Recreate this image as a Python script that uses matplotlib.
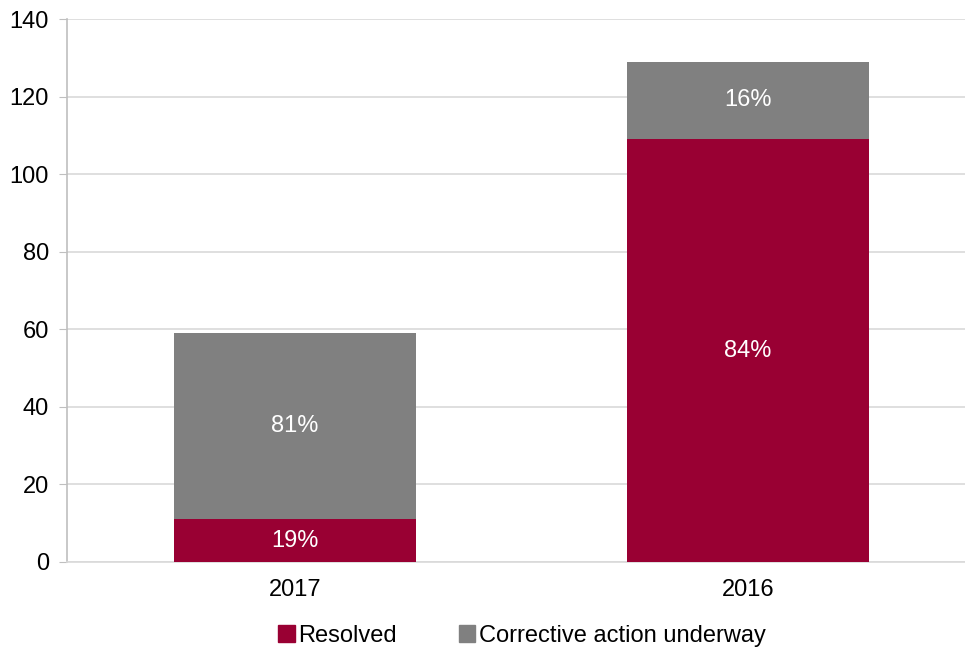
import matplotlib.pyplot as plt
import matplotlib.patches as mpatches
import numpy as np

plt.rcParams['font.family'] = ['Liberation Sans', 'DejaVu Sans']

# data
years = ["2017", "2016"]
resolved = [11, 109]
underway = [48, 20]
resolved_pct = ["19%", "84%"]
underway_pct = ["81%", "16%"]

c_res = "#990033"
c_und = "#808080"
fs = 17

fig = plt.figure(figsize=(9.65, 6.47), dpi=100)
ax = fig.add_axes([67 / 965, 85 / 647, 1 - 67 / 965, 543 / 647])

x = np.arange(len(years))
w = 0.534
ax.bar(x, resolved, w, color=c_res, label="Resolved", zorder=3)
ax.bar(x, underway, w, bottom=resolved, color=c_und,
       label="Corrective action underway", zorder=3)

for i in range(len(years)):
    ax.text(x[i], resolved[i] / 2, resolved_pct[i], ha="center", va="center",
            color="white", fontsize=fs, zorder=4)
    ax.text(x[i], resolved[i] + underway[i] / 2, underway_pct[i], ha="center",
            va="center", color="white", fontsize=fs, zorder=4)

ax.set_xlim(-0.503, 1.479)
ax.set_ylim(0, 140)
ax.set_yticks(np.arange(0, 141, 20))
ax.set_xticks(x)
ax.set_xticklabels(years)
ax.tick_params(axis="y", labelsize=fs, length=6, color="#bfbfbf", pad=7)
ax.tick_params(axis="x", labelsize=fs, length=0, pad=12)
ax.yaxis.grid(True, color="#d9d9d9", linewidth=1.2, zorder=0)
ax.set_axisbelow(True)

for s in ["top", "right"]:
    ax.spines[s].set_visible(False)
ax.spines["left"].set_color("#bfbfbf")
ax.spines["bottom"].set_color("#d9d9d9")
ax.spines["left"].set_linewidth(1.2)
ax.spines["bottom"].set_linewidth(1.2)

h1 = mpatches.Patch(color=c_res, label="Resolved")
h2 = mpatches.Patch(color=c_und, label="Corrective action underway")
fig.legend(handles=[h1, h2], loc="center", bbox_to_anchor=(522 / 965, 11 / 647),
           ncol=2, frameon=False, fontsize=fs, handlelength=0.7,
           handleheight=0.7, handletextpad=0.15, columnspacing=2.6,
           borderaxespad=0, borderpad=0)

fig.savefig("out.png", dpi=100)
